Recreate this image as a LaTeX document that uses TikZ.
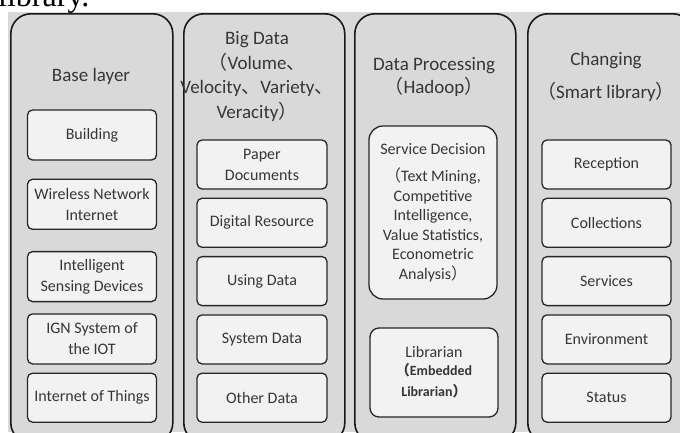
\documentclass[tikz,border=0pt]{standalone}
\usepackage{fontspec}
\setmainfont{Carlito}
\newfontfamily\cjkfont{Noto Sans CJK SC}
\newfontfamily\pagefont{Liberation Serif}
\usetikzlibrary{positioning}
\definecolor{panelgray}{HTML}{D9D9D9}
\definecolor{cellgray}{HTML}{F2F2F2}
\definecolor{inkgray}{HTML}{363636}
\newcommand{\lp}{{\cjkfont （}}
\newcommand{\rp}{{\cjkfont ）}}
\newcommand{\dun}{{\cjkfont 、}}
\newcommand{\notefont}{\fontsize{14}{18}\selectfont\bfseries}

\tikzset{
  layer/.style={draw=black!90, line width=1.6pt, fill=panelgray,
    rounded corners=20pt, minimum height=429pt, anchor=north west,
    inner sep=0pt},
  headline/.style={align=center, text=inkgray,
    font=\fontsize{19}{24.5}\selectfont},
  cell/.style={draw=black!85, line width=1.3pt, fill=cellgray,
    rounded corners=5pt, minimum width=129pt, minimum height=49pt,
    align=center, text=inkgray, inner sep=2pt,
    font=\fontsize{16}{21}\selectfont},
}

\begin{document}
\begin{tikzpicture}[x=1pt, y=-1pt, node distance=8pt]
  \useasboundingbox (0,0) rectangle (680,432);
  \fill[panelgray] (8,12) rectangle (680,432);
  \node[anchor=base west, inner sep=0pt,
    font=\pagefont\fontsize{32}{32}\selectfont] (caption) at (-2,6) {library.};

  % the four layers
  \node[layer, minimum width=162pt] (base) at (10,13) {};
  \node[layer, minimum width=161pt] (bigdata) at (183,13) {};
  \node[layer, minimum width=161pt] (process) at (354,13) {};
  \node[layer, minimum width=165pt] (changing) at (527,13) {};

  % base layer
  \node[headline] (basehead) at (91,76) {Base layer};
  \node[cell, minimum height=50pt] (building) at (92,135) {Building};
  \node[cell, minimum height=50pt, below=18pt of building] (wireless)
    {Wireless Network\\Internet};
  \node[cell, minimum height=50pt, below=21pt of wireless] (sensing)
    {Intelligent\\Sensing Devices};
  \node[cell, minimum height=50pt, below=11pt of sensing] (ign)
    {IGN System of\\the IOT};
  \node[cell, below=of ign] (iot) {Internet of Things};

  % big data
  \node[headline] (datahead) at (257,76.5)
    {Big Data\\\lp Volume\dun\\Velocity\dun Variety\dun\\Veracity\rp};
  \node[cell, minimum width=130pt] (paper) at (262,164.5) {Paper\\Documents};
  \node[cell, minimum width=130pt, below=of paper] (digital) {Digital Resource};
  \node[cell, minimum width=130pt, below=of digital] (using) {Using Data};
  \node[cell, minimum width=130pt, below=of using] (system) {System Data};
  \node[cell, minimum width=130pt, below=of system] (other) {Other Data};

  % data processing
  \node[headline, font=\fontsize{19}{23}\selectfont] (prochead) at (434,76.5)
    {Data Processing\\\lp Hadoop\rp};
  \node[cell, rounded corners=14pt, minimum width=128pt, minimum height=173pt,
    font=\fontsize{16}{19.5}\selectfont] (decision) at (433,212.5)
    {Service Decision\\[8pt]\lp Text Mining,\\Competitive\\Intelligence,\\
     Value Statistics,\\Econometric\\Analysis\rp};
  \node[cell, rounded corners=9pt, minimum width=128pt, minimum height=89pt]
    (librarian) at (434,372.5)
    {Librarian\\[-3pt]\notefont\lp Embedded\\\notefont Librarian\rp};

  % changing
  \node[headline, font=\fontsize{19}{33}\selectfont] (changehead) at (606,76.5)
    {Changing\\\lp Smart library\rp};
  \node[cell] (reception) at (606.5,164.5) {Reception};
  \node[cell, below=of reception] (collections) {Collections};
  \node[cell, below=of collections] (services) {Services};
  \node[cell, below=of services] (environment) {Environment};
  \node[cell, below=of environment] (status) {Status};
\end{tikzpicture}
\end{document}
